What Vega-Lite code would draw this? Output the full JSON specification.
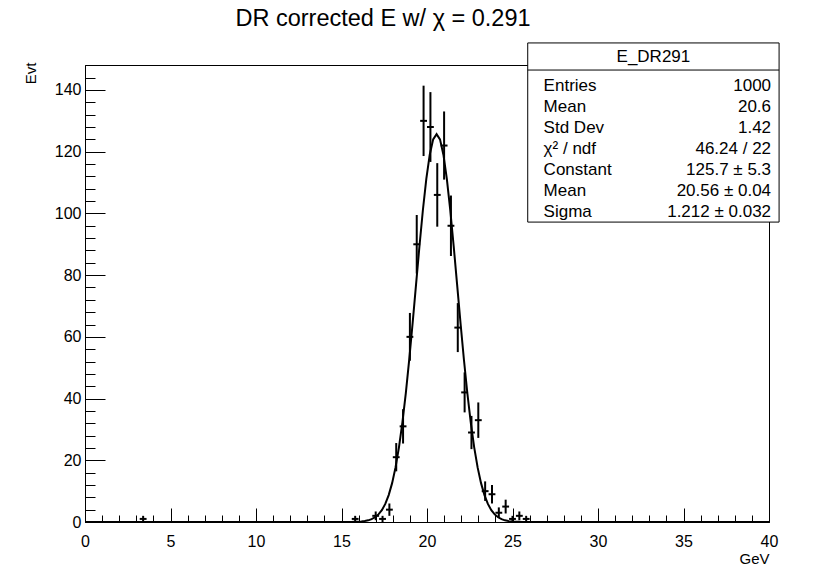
{
  "$schema": "https://vega.github.io/schema/vega-lite/v6.json",
  "width": 684,
  "height": 457,
  "autosize": {"type": "none"},
  "padding": {"left": 85, "top": 65, "right": 71, "bottom": 46},
  "background": "white",
  "config": {"view": {"stroke": "black", "strokeWidth": 1}, "font": "Liberation Sans"},
  "title": {"text": "DR corrected E w/ χ = 0.291", "font": "Liberation Sans", "fontSize": 23.5, "fontWeight": "normal", "color": "black", "anchor": "middle", "dx": -44, "offset": 12},
  "datasets": {
    "hist": [
      {"e": 3.4, "lo": 3.2, "hi": 3.6, "n": 1, "err": 1},
      {"e": 15.8, "lo": 15.6, "hi": 16.0, "n": 1, "err": 1},
      {"e": 17.0, "lo": 16.8, "hi": 17.2, "n": 2, "err": 1.414},
      {"e": 17.4, "lo": 17.2, "hi": 17.6, "n": 1, "err": 1},
      {"e": 17.8, "lo": 17.6, "hi": 18.0, "n": 4, "err": 2},
      {"e": 18.2, "lo": 18.0, "hi": 18.4, "n": 21, "err": 4.583},
      {"e": 18.6, "lo": 18.4, "hi": 18.8, "n": 31, "err": 5.568},
      {"e": 19.0, "lo": 18.8, "hi": 19.2, "n": 60, "err": 7.746},
      {"e": 19.4, "lo": 19.2, "hi": 19.6, "n": 90, "err": 9.487},
      {"e": 19.8, "lo": 19.6, "hi": 20.0, "n": 130, "err": 11.402},
      {"e": 20.2, "lo": 20.0, "hi": 20.4, "n": 128, "err": 11.314},
      {"e": 20.6, "lo": 20.4, "hi": 20.8, "n": 106, "err": 10.296},
      {"e": 21.0, "lo": 20.8, "hi": 21.2, "n": 122, "err": 11.045},
      {"e": 21.4, "lo": 21.2, "hi": 21.6, "n": 96, "err": 9.798},
      {"e": 21.8, "lo": 21.6, "hi": 22.0, "n": 63, "err": 7.937},
      {"e": 22.2, "lo": 22.0, "hi": 22.4, "n": 42, "err": 6.481},
      {"e": 22.6, "lo": 22.4, "hi": 22.8, "n": 29, "err": 5.385},
      {"e": 23.0, "lo": 22.8, "hi": 23.2, "n": 33, "err": 5.745},
      {"e": 23.4, "lo": 23.2, "hi": 23.6, "n": 10, "err": 3.162},
      {"e": 23.8, "lo": 23.6, "hi": 24.0, "n": 9, "err": 3},
      {"e": 24.2, "lo": 24.0, "hi": 24.4, "n": 3, "err": 1.732},
      {"e": 24.6, "lo": 24.4, "hi": 24.8, "n": 5, "err": 2.236},
      {"e": 25.0, "lo": 24.8, "hi": 25.2, "n": 1, "err": 1},
      {"e": 25.4, "lo": 25.2, "hi": 25.6, "n": 2, "err": 1.414},
      {"e": 25.8, "lo": 25.6, "hi": 26.0, "n": 1, "err": 1}
    ],
    "fit": [
      {"E": 0, "f": 0},
      {"E": 15.56, "f": 0.03},
      {"E": 15.76, "f": 0.05},
      {"E": 15.96, "f": 0.09},
      {"E": 16.16, "f": 0.17},
      {"E": 16.36, "f": 0.31},
      {"E": 16.56, "f": 0.54},
      {"E": 16.76, "f": 0.92},
      {"E": 16.96, "f": 1.53},
      {"E": 17.16, "f": 2.46},
      {"E": 17.36, "f": 3.85},
      {"E": 17.56, "f": 5.87},
      {"E": 17.76, "f": 8.72},
      {"E": 17.96, "f": 12.59},
      {"E": 18.16, "f": 17.70},
      {"E": 18.36, "f": 24.20},
      {"E": 18.56, "f": 32.21},
      {"E": 18.76, "f": 41.72},
      {"E": 18.96, "f": 52.59},
      {"E": 19.16, "f": 64.50},
      {"E": 19.36, "f": 77.00},
      {"E": 19.56, "f": 89.44},
      {"E": 19.76, "f": 101.10},
      {"E": 19.96, "f": 111.20},
      {"E": 20.16, "f": 119.04},
      {"E": 20.36, "f": 124.00},
      {"E": 20.56, "f": 125.70},
      {"E": 20.76, "f": 124.00},
      {"E": 20.96, "f": 119.04},
      {"E": 21.16, "f": 111.20},
      {"E": 21.36, "f": 101.10},
      {"E": 21.56, "f": 89.44},
      {"E": 21.76, "f": 77.00},
      {"E": 21.96, "f": 64.50},
      {"E": 22.16, "f": 52.59},
      {"E": 22.36, "f": 41.72},
      {"E": 22.56, "f": 32.21},
      {"E": 22.76, "f": 24.20},
      {"E": 22.96, "f": 17.70},
      {"E": 23.16, "f": 12.59},
      {"E": 23.36, "f": 8.72},
      {"E": 23.56, "f": 5.87},
      {"E": 23.76, "f": 3.85},
      {"E": 23.96, "f": 2.46},
      {"E": 24.16, "f": 1.53},
      {"E": 24.36, "f": 0.92},
      {"E": 24.56, "f": 0.54},
      {"E": 24.76, "f": 0.31},
      {"E": 24.96, "f": 0.17},
      {"E": 25.16, "f": 0.09},
      {"E": 25.36, "f": 0.05},
      {"E": 25.56, "f": 0.03},
      {"E": 40, "f": 0}
    ],
    "stats": [
      {"row": 1, "label": "Entries", "value": "1000"},
      {"row": 2, "label": "Mean", "value": "20.6"},
      {"row": 3, "label": "Std Dev", "value": "1.42"},
      {"row": 4, "label": "χ² / ndf", "value": "46.24 / 22"},
      {"row": 5, "label": "Constant", "value": "125.7 ± 5.3"},
      {"row": 6, "label": "Mean", "value": "20.56 ± 0.04"},
      {"row": 7, "label": "Sigma", "value": "1.212 ± 0.032"}
    ],
    "statsHeader": [{"name": "E_DR291"}]
  },
  "layer": [
    {
      "layer": [
        {
          "data": {"name": "fit"},
          "mark": {"type": "line", "color": "black", "strokeWidth": 2},
          "encoding": {
            "x": {
              "field": "E", "type": "quantitative", "title": "GeV",
              "scale": {"domain": [0, 40], "nice": false, "zero": false},
              "axis": {
                "values": [0,1,2,3,4,5,6,7,8,9,10,11,12,13,14,15,16,17,18,19,20,21,22,23,24,25,26,27,28,29,30,31,32,33,34,35,36,37,38,39,40],
                "tickCount": 200, "format": "d",
                "labelExpr": "datum.value % 5 === 0 ? datum.label : ''",
                "tickSize": {"condition": {"test": "datum.value % 5 === 0", "value": -14}, "value": -7},
                "tickColor": "black", "tickWidth": 1, "domainColor": "black", "domainWidth": 1,
                "labelFont": "Liberation Sans", "labelFontSize": 16, "labelColor": "black",
                "labelPadding": 25, "labelOverlap": false, "labelFlush": false, "grid": false,
                "titleFont": "Liberation Sans", "titleFontSize": 15, "titleFontWeight": "normal", "titleColor": "black",
                "titleX": 684, "titleY": 36, "titleAlign": "right", "titleBaseline": "middle"
              }
            },
            "y": {
              "field": "f", "type": "quantitative", "title": "Evt",
              "scale": {"domain": [0, 148.1], "nice": false},
              "axis": {
                "values": [0,4,8,12,16,20,24,28,32,36,40,44,48,52,56,60,64,68,72,76,80,84,88,92,96,100,104,108,112,116,120,124,128,132,136,140,144,148],
                "tickCount": 200, "format": "d",
                "labelExpr": "datum.value % 20 === 0 ? datum.label : ''",
                "tickSize": {"condition": {"test": "datum.value % 20 === 0", "value": -20}, "value": -10},
                "tickColor": "black", "tickWidth": 1, "domainColor": "black", "domainWidth": 1,
                "labelFont": "Liberation Sans", "labelFontSize": 16, "labelColor": "black",
                "labelPadding": 24, "labelOverlap": false, "labelFlush": false, "grid": false,
                "titleFont": "Liberation Sans", "titleFontSize": 15, "titleFontWeight": "normal", "titleColor": "black",
                "titleX": -55, "titleY": -3, "titleAngle": -90, "titleAlign": "right", "titleBaseline": "middle"
              }
            }
          }
        },
        {
          "data": {"name": "hist"},
          "mark": {"type": "rule", "color": "black", "strokeWidth": 2},
          "encoding": {
            "x": {"field": "lo", "type": "quantitative", "title": "GeV"},
            "x2": {"field": "hi"},
            "y": {"field": "n", "type": "quantitative", "title": "Evt"}
          }
        },
        {
          "data": {"name": "hist"},
          "mark": {"type": "errorbar", "color": "black", "thickness": 2, "ticks": false},
          "encoding": {
            "x": {"field": "e", "type": "quantitative", "title": "GeV"},
            "y": {"field": "n", "type": "quantitative", "title": "Evt"},
            "yError": {"field": "err"}
          }
        }
      ]
    },
    {
      "layer": [
        {
          "data": {"name": "statsHeader"},
          "mark": {"type": "rect", "fill": "white", "stroke": "black", "strokeWidth": 1},
          "encoding": {
            "x": {"datum": 25.89, "type": "quantitative"},
            "x2": {"datum": 40.59},
            "y": {"datum": -1.05, "type": "quantitative", "scale": {"domain": [0, 21.762], "reverse": true, "nice": false, "zero": false}, "axis": null},
            "y2": {"datum": 7.48}
          }
        },
        {
          "data": {"name": "statsHeader"},
          "mark": {"type": "rule", "color": "black", "strokeWidth": 1},
          "encoding": {
            "x": {"datum": 25.89, "type": "quantitative"},
            "x2": {"datum": 40.59},
            "y": {"datum": 0.24, "type": "quantitative"}
          }
        },
        {
          "data": {"name": "statsHeader"},
          "mark": {"type": "text", "font": "Liberation Sans", "fontSize": 17, "color": "black", "align": "center", "baseline": "middle"},
          "encoding": {
            "x": {"datum": 33.24, "type": "quantitative"},
            "y": {"datum": -0.36, "type": "quantitative"},
            "text": {"field": "name"}
          }
        },
        {
          "data": {"name": "stats"},
          "mark": {"type": "text", "font": "Liberation Sans", "fontSize": 17, "color": "black", "align": "left", "baseline": "middle"},
          "encoding": {
            "x": {"datum": 26.82, "type": "quantitative"},
            "y": {"field": "row", "type": "quantitative"},
            "text": {"field": "label"}
          }
        },
        {
          "data": {"name": "stats"},
          "mark": {"type": "text", "font": "Liberation Sans", "fontSize": 17, "color": "black", "align": "right", "baseline": "middle"},
          "encoding": {
            "x": {"datum": 40.12, "type": "quantitative"},
            "y": {"field": "row", "type": "quantitative"},
            "text": {"field": "value"}
          }
        }
      ]
    }
  ],
  "resolve": {"scale": {"y": "independent"}, "axis": {"y": "independent"}}
}
